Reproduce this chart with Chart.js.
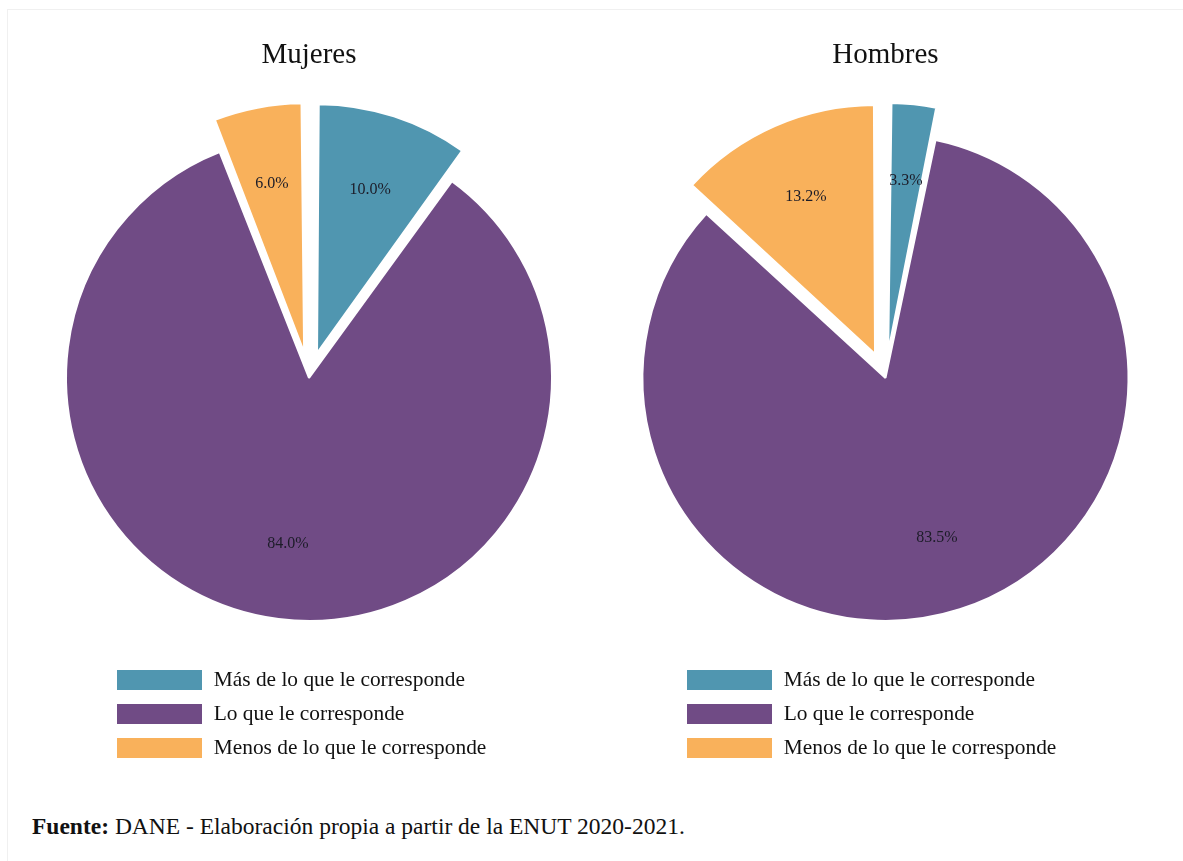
<!DOCTYPE html>
<html>
<head>
<meta charset="utf-8">
<script src="https://cdn.jsdelivr.net/npm/chart.js@4/dist/chart.umd.min.js"></script>
<style>
  html, body { margin: 0; padding: 0; background: #fff; }
  body { width: 1183px; height: 861px; position: relative; overflow: hidden; font-family: "Liberation Serif", "DejaVu Serif", serif; }
  #frame { position: absolute; left: 7px; top: 9px; width: 1300px; height: 1000px; border-left: 1px solid #f0f0f0; border-top: 1px solid #f0f0f0; }
  .wrap { position: absolute; top: 0; width: 592px; height: 790px; }
  #w1 { left: 0; }
  #w2 { left: 592px; }
  #source { position: absolute; left: 32px; top: 813px; font-size: 23.5px; color: #111; white-space: nowrap; }
</style>
</head>
<body>
<div id="frame"></div>
<div class="wrap" id="w1"><canvas id="c1" width="592" height="790"></canvas></div>
<div class="wrap" id="w2"><canvas id="c2" width="592" height="790"></canvas></div>
<div id="source"><b>Fuente:</b> DANE - Elaboración propia a partir de la ENUT 2020-2021.</div>
<script>
const categories = ["Más de lo que le corresponde", "Lo que le corresponde", "Menos de lo que le corresponde"];
const mujeresValues = [10.0, 84.0, 6.0];
const hombresValues = [3.3, 83.5, 13.2];
const chartTitles = ["Mujeres", "Hombres"];
const colors = ["#5096b0", "#704b85", "#f9b15b"];
const explode = [104, 0, 104];

const FONT = "'Liberation Serif', 'DejaVu Serif', serif";
const EXPLODED_GAIN = 6;

// Give exploded slices a constant radius (Chart.js grows small offset slices by a variable amount).
const keepRadius = {
  id: 'keepRadius',
  afterDatasetUpdate(chart, args) {
    args.meta.data.forEach(arc => {
      const t = (arc.options.offset || 0) / 4;
      if (!t) return;
      const fix = 1 - Math.sin(Math.min(Math.PI, arc.circumference || 0));
      arc.outerRadius = arc.outerRadius + EXPLODED_GAIN - t * fix;
    });
  }
};

const pctLabels = {
  id: 'pctLabels',
  afterDatasetsDraw(chart) {
    const ctx = chart.ctx;
    const meta = chart.getDatasetMeta(0);
    const data = chart.data.datasets[0].data;
    ctx.save();
    ctx.font = "16px " + FONT;
    ctx.fillStyle = "#1c1c28";
    ctx.textAlign = "center";
    ctx.textBaseline = "middle";
    meta.data.forEach((arc, i) => {
      const mid = (arc.startAngle + arc.endAngle) / 2;
      const t = (arc.options.offset || 0) / 4;
      const fix = 1 - Math.sin(Math.min(Math.PI, arc.circumference || 0));
      const visR = arc.outerRadius + t * fix;
      const d = t + visR * 0.69;
      ctx.fillText(data[i].toFixed(1) + "%", arc.x + Math.cos(mid) * d, arc.y + Math.sin(mid) * d);
    });
    ctx.restore();
  }
};

function makePie(id, title, values, padL, padR) {
  return new Chart(document.getElementById(id), {
    type: 'pie',
    data: {
      labels: categories,
      datasets: [{
        data: values,
        backgroundColor: colors,
        borderColor: "#ffffff",
        borderWidth: 2,
        offset: explode,
        radius: 243,
        clip: false
      }]
    },
    options: {
      responsive: false,
      animation: false,
      events: [],
      layout: { padding: { left: padL, right: padR, top: 0, bottom: 21 } },
      plugins: {
        title: {
          display: true,
          text: title,
          color: "#111",
          font: { family: FONT, size: 29, weight: 'normal' },
          padding: { top: 38, bottom: 26 }
        },
        legend: {
          display: true,
          position: 'bottom',
          align: 'start',
          labels: {
            boxWidth: 87,
            boxHeight: 22,
            padding: 12,
            color: "#111",
            font: { family: FONT, size: 21.4 }
          }
        },
        tooltip: { enabled: false }
      }
    },
    plugins: [keepRadius, pctLabels]
  });
}

makePie('c1', chartTitles[0], mujeresValues, 104, 78);
makePie('c2', chartTitles[1], hombresValues, 82, 87);
</script>
</body>
</html>
